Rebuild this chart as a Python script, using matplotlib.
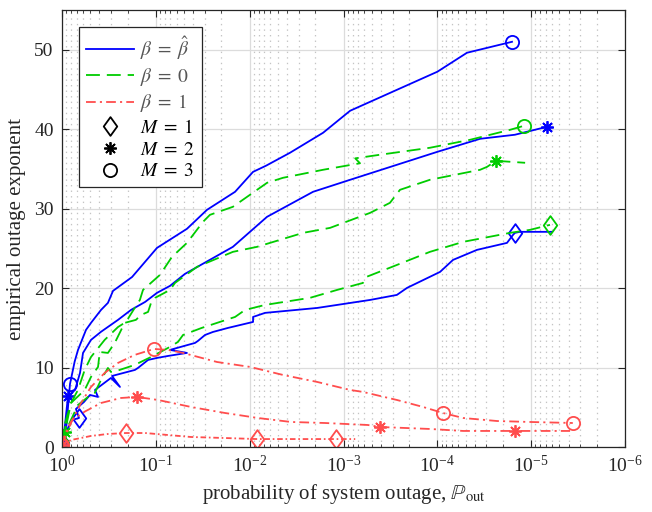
import matplotlib
matplotlib.use("Agg")
import matplotlib.pyplot as plt
from matplotlib.lines import Line2D
from matplotlib.path import Path

plt.rcParams['font.family'] = ['Liberation Serif', 'DejaVu Serif']
plt.rcParams['mathtext.fontset'] = 'stix'
plt.rcParams['lines.scale_dashes'] = False

# ---------------- data (P_out, exponent) ----------------
# beta = beta_hat
bh_m3_x = [0.9886, 0.906, 0.822, 0.733, 0.676, 0.555, 0.491, 0.384, 0.324, 0.286, 0.179, 0.0972,
           0.0466, 0.0285, 0.0143, 0.0092, 0.0067, 0.00372, 0.00165, 8.5e-4, 1.0e-4, 4.83e-5, 1.6e-5]
bh_m3_y = [0.38, 2.14, 7.93, 10.75, 12.2, 14.74, 15.62, 17.25, 18.14, 19.65, 21.4, 25.06,
           27.46, 29.85, 32.12, 34.63, 35.4, 37.03, 39.55, 42.32, 47.23, 49.62, 51.0]
bh_m3_mk = [0, 2, 22]

bh_m2_x = [0.9886, 0.929, 0.863, 0.726, 0.643, 0.597, 0.491, 0.384, 0.253, 0.184, 0.130, 0.0972,
           0.0706, 0.0489, 0.0151, 0.00653, 0.00211, 8.5e-4, 1.0e-4, 3.5e-5, 1.49e-5, 6.8e-6]
bh_m2_y = [0.5, 2.77, 6.42, 7.18, 9.32, 11.84, 13.48, 14.5, 16.0, 17.25, 18.26, 19.4,
           20.28, 21.79, 25.19, 28.97, 32.12, 33.63, 37.15, 38.79, 39.3, 40.3]
bh_m2_mk = [0, 2, 21]

bh_m1_x = [0.9886, 0.906, 0.782, 0.659, 0.710, 0.583, 0.503, 0.413, 0.445, 0.301, 0.241, 0.293,
           0.167, 0.155, 0.121, 0.0972, 0.0741, 0.0466, 0.0706, 0.0382, 0.0356, 0.0299, 0.0246,
           0.0170, 0.0092, 0.0092, 0.00686, 0.00191, 5.2e-4, 2.7e-4, 2.1e-4, 9.35e-5, 6.8e-5,
           3.78e-5, 1.81e-5, 1.56e-5, 1.49e-5, 1.32e-5, 6.0e-6]
bh_m1_y = [0.5, 1.89, 3.4, 3.65, 4.79, 5.67, 6.55, 6.30, 7.18, 8.69, 7.56, 8.94,
           9.70, 9.95, 10.96, 11.21, 11.46, 11.84, 12.22, 13.1, 13.35, 14.1, 14.48,
           14.99, 15.74, 16.37, 16.88, 17.5, 18.51, 19.14, 20.03, 22.04, 23.55,
           24.81, 25.69, 26.7, 26.95, 27.08, 27.08]
bh_m1_mk = [0, 3, 36]

# beta = 0
b0_m3_x = [0.9886, 0.975, 0.802, 0.676, 0.573, 0.491, 0.351, 0.253, 0.208, 0.168, 0.148, 0.137,
           0.0904, 0.0673, 0.0466, 0.0314, 0.0265, 0.0151, 0.00653, 0.00442, 0.00165, 6.67e-4,
           7.5e-4, 4.1e-4, 1.2e-4, 4.5e-5, 1.68e-5, 1.19e-5]
b0_m3_y = [0.38, 2.14, 5.54, 7.18, 9.70, 11.33, 13.48, 15.1, 15.74, 17.5, 18.5, 19.77,
           21.66, 23.93, 25.69, 28.34, 29.22, 30.23, 33.25, 33.88, 34.89, 35.71,
           36.33, 36.78, 37.66, 38.66, 39.92, 40.43]
b0_m3_mk = [0, 27]

b0_m2_x = [0.9886, 0.929, 0.802, 0.573, 0.491, 0.413, 0.396, 0.324, 0.274, 0.215, 0.163, 0.144,
           0.121, 0.1125, 0.102, 0.0706, 0.0625, 0.0364, 0.0151, 0.00836, 0.0027, 0.00139,
           5.2e-4, 3.2e-4, 2.5e-4, 1.2e-4, 3.5e-5, 2.95e-5, 2.37e-5, 1.16e-5]
b0_m2_y = [0.38, 1.89, 5.54, 7.18, 8.82, 10.08, 11.96, 11.84, 13.1, 15.62, 16.0, 16.62,
           17.0, 18.14, 18.77, 19.77, 20.65, 22.67, 24.56, 25.19, 26.95, 27.58,
           29.47, 30.73, 32.37, 33.63, 34.89, 35.26, 36.02, 35.77]
b0_m2_mk = [1, 28]

b0_m1_x = [0.9886, 0.975, 0.676, 0.528, 0.448, 0.384, 0.324, 0.301, 0.243, 0.168, 0.1125, 0.0741,
           0.0581, 0.0513, 0.0324, 0.0143, 0.0112, 0.00686, 0.00228, 0.00117, 6.2e-4, 5.7e-4,
           3.04e-4, 1.2e-4, 5.3e-5, 1.68e-5, 1.03e-5, 6.3e-6]
b0_m1_y = [0.38, 1.26, 5.29, 6.30, 6.80, 8.44, 9.95, 9.45, 9.70, 10.33, 11.33, 12.47,
           13.22, 14.1, 14.99, 16.37, 17.25, 17.88, 18.77, 19.77, 20.65, 21.41,
           22.67, 24.56, 25.82, 26.95, 27.33, 27.96]
b0_m1_mk = [0, 27]

# beta = 1
b1_m3_x = [1.0, 0.802, 0.627, 0.491, 0.351, 0.253, 0.168, 0.1046, 0.0741, 0.0513, 0.0223, 0.00991,
           0.00442, 0.00191, 8.5e-4, 6.2e-4, 2.7e-4, 1.42e-4, 8.7e-5, 5.3e-5, 2.31e-5, 1.03e-5, 3.6e-6]
b1_m3_y = [0.25, 3.02, 5.54, 7.56, 9.32, 10.58, 11.59, 12.34, 12.22, 11.84, 10.7, 10.08,
           9.07, 8.19, 7.18, 6.93, 5.92, 5.04, 4.28, 3.65, 3.27, 3.15, 3.02]
b1_m3_mk = [0, 7, 18, 22]

b1_m2_x = [1.0, 0.906, 0.782, 0.573, 0.384, 0.235, 0.159, 0.0948, 0.0422, 0.0183, 0.00815, 0.00362,
           0.00157, 5.5e-4, 4.1e-4, 1.2e-4, 5.3e-5, 1.49e-5, 3.85e-6]
b1_m2_y = [0.25, 1.89, 3.4, 4.45, 5.54, 6.17, 6.30, 5.92, 5.04, 4.28, 3.65, 3.15,
           3.02, 2.77, 2.52, 2.27, 2.02, 2.02, 2.02]
b1_m2_mk = [0, 6, 14, 17]

b1_m1_x = [1.0, 0.802, 0.491, 0.324, 0.208, 0.130, 0.0741, 0.0422, 0.0183, 0.00836, 0.00362, 0.0012, 7.5e-4]
b1_m1_y = [0.25, 0.88, 1.39, 1.64, 1.76, 1.76, 1.51, 1.26, 1.13, 1.0, 1.0, 1.0, 1.0]
b1_m1_mk = [0, 4, 9, 11]

xtick_vals = [1e0, 1e-1, 1e-2, 1e-3, 1e-4, 1e-5, 1e-6]
ytick_vals = [0, 10, 20, 30, 40, 50]

legend_labels = [r'$\beta\;=\;\hat{\beta}$', r'$\beta\;=\;0$', r'$\beta\;=\;1$',
                 r'$M\;=\;1$', r'$M\;=\;2$', r'$M\;=\;3$']

# ---------------- styling ----------------
BLUE = '#0000ff'
GREEN = '#00cc00'
RED = '#ff4d4d'
dashed = (0, (10, 5))
dashdot = (0, (7, 3, 1.5, 3))
dashdot1 = (0, (4, 2, 1.2, 2))
STAR = (8, 2, 0)
DIAM = Path([(0, 1), (0.72, 0), (0, -1), (-0.72, 0), (0, 1)],
            [Path.MOVETO, Path.LINETO, Path.LINETO, Path.LINETO, Path.CLOSEPOLY])
lw = 1.3
mew = 1.3
MS_O, MS_S, MS_D = 9.5, 9, 13.5

fig = plt.figure(figsize=(6.52, 5.12), dpi=100)
ax = fig.add_axes([62/652, 1-447/512, (625-62)/652, (447-10)/512])

def draw(x, y, color, ls, marker, mk, ms):
    ax.plot(x, y, color=color, linestyle=ls, lw=lw, marker=marker, markevery=mk,
            markersize=ms, markerfacecolor='none', markeredgecolor=color, markeredgewidth=mew)

draw(bh_m3_x, bh_m3_y, BLUE, '-', 'o', bh_m3_mk, MS_O)
draw(bh_m2_x, bh_m2_y, BLUE, '-', STAR, bh_m2_mk, MS_S)
draw(bh_m1_x, bh_m1_y, BLUE, '-', DIAM, bh_m1_mk, MS_D)
draw(b0_m3_x, b0_m3_y, GREEN, dashed, 'o', b0_m3_mk, MS_O)
draw(b0_m2_x, b0_m2_y, GREEN, dashed, STAR, b0_m2_mk, MS_S)
draw(b0_m1_x, b0_m1_y, GREEN, dashed, DIAM, b0_m1_mk, MS_D)
draw(b1_m3_x, b1_m3_y, RED, dashdot, 'o', b1_m3_mk, MS_O)
draw(b1_m2_x, b1_m2_y, RED, dashdot, STAR, b1_m2_mk, MS_S)
draw(b1_m1_x, b1_m1_y, RED, dashdot1, DIAM, b1_m1_mk, MS_D)

ax.set_xscale('log')
ax.set_xlim(1e0, 1e-6)
ax.set_ylim(0, 55)
ax.set_xticks(xtick_vals)
ax.set_yticks(ytick_vals)

ax.set_axisbelow(True)
ax.grid(True, which='major', axis='both', color='#dcdcdc', lw=0.9, ls='-')
ax.xaxis.grid(True, which='minor', color='#c4c4c4', lw=0.9, ls=(0, (1, 3)))

for s in ax.spines.values():
    s.set_color('#262626')
    s.set_linewidth(0.9)
ax.tick_params(which='both', direction='in', top=True, right=True, colors='#262626')
ax.tick_params(which='major', length=5, width=0.8, labelsize=14, labelcolor='#262626', pad=6)
ax.tick_params(which='minor', length=2.5, width=0.6)
ax.tick_params(axis='y', which='minor', left=False, right=False)

ax.set_xlabel(r'probability of system outage, $\mathbb{P}_{\rm out}$', fontsize=15, color='#262626', labelpad=4)
ax.set_ylabel('empirical outage exponent', fontsize=15, color='#262626', labelpad=6)

handles = [
    Line2D([], [], color=BLUE, ls='-', lw=lw),
    Line2D([], [], color=GREEN, ls=dashed, lw=lw),
    Line2D([], [], color=RED, ls=dashdot, lw=lw),
    Line2D([], [], color='black', ls='none', marker=DIAM, ms=MS_D, mfc='none', mew=mew),
    Line2D([], [], color='black', ls='none', marker=STAR, ms=MS_S, mfc='none', mew=mew),
    Line2D([], [], color='black', ls='none', marker='o', ms=MS_O, mfc='none', mew=mew),
]
leg = ax.legend(handles, legend_labels, loc='upper left', bbox_to_anchor=(0.03, 0.961),
                borderaxespad=0, fontsize=14, handlelength=2.5, handletextpad=0.3,
                labelspacing=0.22, borderpad=0.35, fancybox=False, framealpha=1,
                edgecolor='#262626')
leg.get_frame().set_linewidth(0.9)
for i, t in enumerate(leg.get_texts()):
    t.set_color('#555555' if i < 3 else 'black')

fig.savefig('out.png', dpi=100)
